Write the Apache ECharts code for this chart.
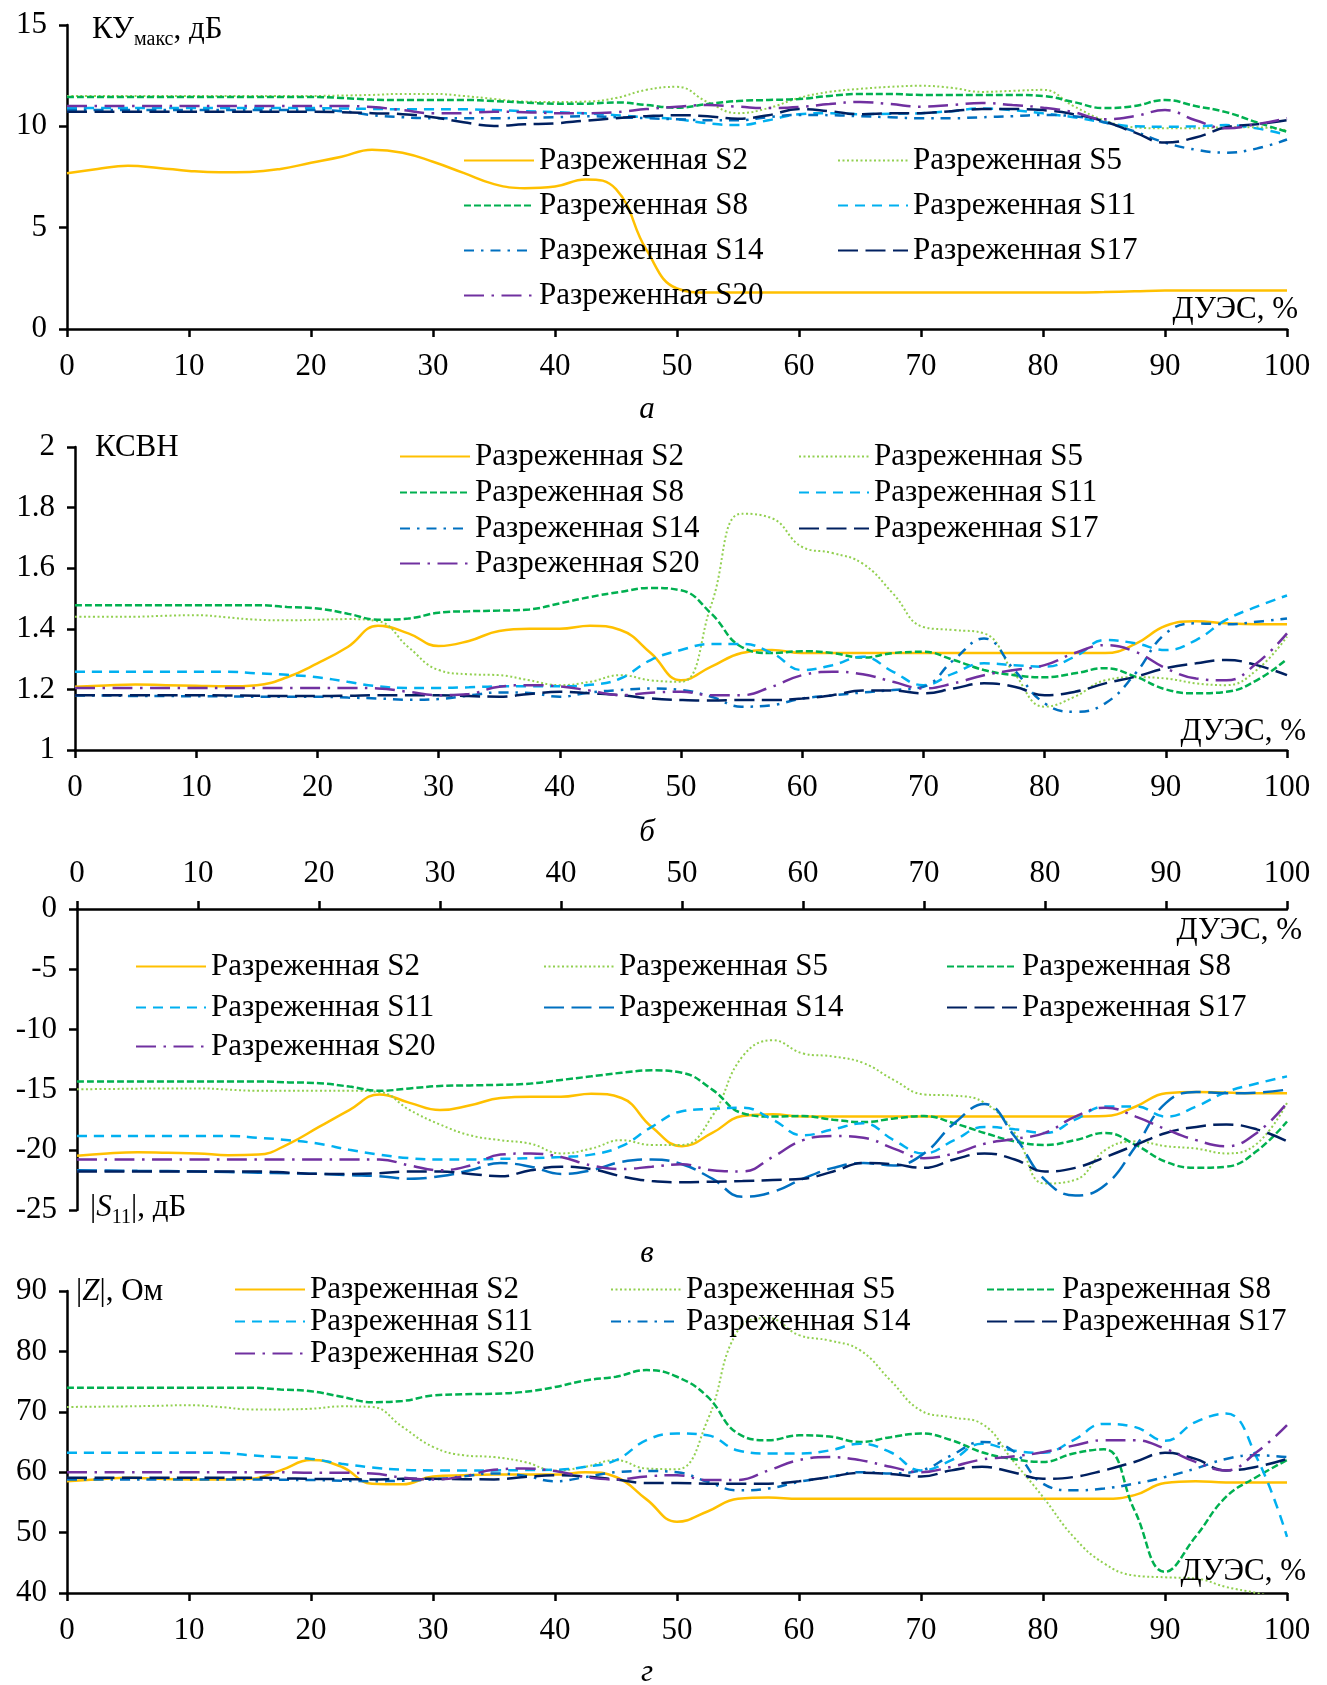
<!DOCTYPE html>
<html><head><meta charset="utf-8">
<script src="https://cdn.jsdelivr.net/npm/echarts@6/dist/echarts.min.js"></script>
<style>html,body{margin:0;padding:0;background:#fff}#c{width:1327px;height:1685px}</style>
</head><body><div id="c"></div><script>
// ---------- DATA ----------
const X = [0,2.5,5,7.5,10,12.5,15,17.5,20,22.5,25,27.5,30,32.5,35,37.5,40,42.5,45,47.5,50,52.5,55,57.5,60,62.5,65,67.5,70,72.5,75,77.5,80,82.5,85,87.5,90,92.5,95,97.5,100];
const NAMES = ['Разреженная S2','Разреженная S5','Разреженная S8','Разреженная S11','Разреженная S14','Разреженная S17','Разреженная S20'];
const AXIS_X_NAME = 'ДУЭС, %';

// panel а: КУмакс, дБ
const a_S2  = [7.68,7.9,8.05,7.95,7.8,7.73,7.75,7.9,8.2,8.5,8.85,8.7,8.25,7.7,7.15,6.95,7.03,7.38,6.9,3.9,2.0,1.8,1.8,1.8,1.8,1.8,1.8,1.8,1.8,1.8,1.8,1.8,1.8,1.8,1.82,1.86,1.9,1.9,1.9,1.9,1.9];
const a_S5  = [11.5,11.5,11.5,11.5,11.5,11.5,11.5,11.5,11.5,11.52,11.55,11.6,11.6,11.5,11.35,11.22,11.2,11.22,11.4,11.8,11.95,11.2,10.65,10.9,11.4,11.7,11.85,11.95,12.0,11.9,11.7,11.75,11.8,11.0,10.3,9.95,9.9,9.9,9.95,9.95,9.8];
const a_S8  = [11.45,11.45,11.45,11.45,11.45,11.45,11.45,11.45,11.45,11.4,11.32,11.3,11.3,11.3,11.25,11.17,11.12,11.12,11.18,11.05,10.92,11.1,11.25,11.3,11.35,11.5,11.6,11.6,11.55,11.55,11.55,11.55,11.5,11.2,10.9,11.0,11.3,11.0,10.7,10.2,9.73];
const a_S11 = [10.9,10.9,10.9,10.9,10.9,10.9,10.9,10.9,10.9,10.88,10.86,10.84,10.84,10.84,10.8,10.75,10.7,10.64,10.55,10.45,10.35,10.15,10.06,10.3,10.6,10.65,10.6,10.62,10.65,10.75,10.88,10.8,10.64,10.45,10.2,10.0,9.98,10.0,10.06,9.9,9.57];
const a_S14 = [10.8,10.8,10.8,10.8,10.8,10.8,10.8,10.8,10.8,10.75,10.55,10.45,10.4,10.4,10.4,10.42,10.45,10.5,10.45,10.4,10.35,10.3,10.3,10.45,10.56,10.55,10.5,10.45,10.4,10.4,10.45,10.5,10.56,10.5,10.2,9.75,9.2,8.85,8.7,8.9,9.35];
const a_S17 = [10.72,10.72,10.72,10.72,10.72,10.72,10.72,10.72,10.72,10.7,10.65,10.6,10.45,10.2,10.02,10.1,10.15,10.28,10.4,10.5,10.55,10.5,10.38,10.55,10.85,10.75,10.6,10.64,10.65,10.75,10.85,10.85,10.8,10.6,10.25,9.7,9.2,9.45,9.95,10.1,10.3];
const a_S20 = [11.0,11.0,11.0,11.0,11.0,11.0,11.0,11.0,11.0,11.0,10.95,10.8,10.64,10.65,10.72,10.7,10.65,10.64,10.7,10.85,10.97,11.05,10.97,10.9,10.95,11.1,11.2,11.1,10.97,11.05,11.15,11.05,10.92,10.7,10.35,10.5,10.8,10.3,9.9,10.1,10.4];

// panel б: КСВН
const b_S2  = [1.209,1.213,1.216,1.214,1.212,1.21,1.214,1.24,1.286,1.34,1.41,1.385,1.343,1.36,1.393,1.40,1.40,1.41,1.396,1.32,1.23,1.275,1.32,1.33,1.32,1.32,1.32,1.32,1.32,1.32,1.32,1.32,1.32,1.32,1.32,1.35,1.41,1.425,1.418,1.415,1.415];
const b_S5  = [1.44,1.44,1.44,1.443,1.445,1.438,1.43,1.428,1.43,1.432,1.425,1.34,1.264,1.25,1.247,1.23,1.214,1.225,1.247,1.23,1.225,1.48,1.78,1.765,1.67,1.65,1.615,1.516,1.406,1.396,1.385,1.253,1.143,1.176,1.23,1.24,1.236,1.22,1.214,1.264,1.374];
const b_S8  = [1.478,1.478,1.478,1.478,1.478,1.478,1.478,1.472,1.467,1.45,1.43,1.434,1.453,1.458,1.46,1.464,1.484,1.505,1.522,1.535,1.527,1.45,1.34,1.32,1.326,1.32,1.305,1.32,1.324,1.297,1.264,1.247,1.24,1.253,1.27,1.242,1.2,1.187,1.192,1.23,1.30];
const b_S11 = [1.258,1.258,1.258,1.258,1.258,1.258,1.253,1.248,1.24,1.225,1.21,1.205,1.205,1.207,1.21,1.21,1.21,1.215,1.236,1.297,1.33,1.35,1.35,1.32,1.264,1.28,1.308,1.258,1.214,1.253,1.286,1.28,1.275,1.308,1.363,1.352,1.33,1.363,1.43,1.473,1.51];
const b_S14 = [1.18,1.18,1.178,1.178,1.177,1.177,1.176,1.176,1.176,1.173,1.17,1.166,1.168,1.18,1.19,1.188,1.176,1.19,1.198,1.203,1.198,1.176,1.143,1.148,1.17,1.18,1.19,1.198,1.209,1.297,1.368,1.264,1.154,1.126,1.154,1.253,1.385,1.418,1.415,1.423,1.434];
const b_S17 = [1.181,1.181,1.181,1.181,1.181,1.18,1.179,1.178,1.178,1.179,1.181,1.181,1.181,1.178,1.176,1.185,1.192,1.187,1.181,1.17,1.165,1.163,1.165,1.165,1.17,1.181,1.196,1.196,1.187,1.203,1.22,1.209,1.181,1.192,1.22,1.242,1.27,1.286,1.297,1.28,1.247];
const b_S20 = [1.205,1.205,1.205,1.205,1.205,1.205,1.205,1.205,1.205,1.205,1.203,1.192,1.181,1.185,1.209,1.214,1.21,1.196,1.181,1.189,1.192,1.181,1.181,1.209,1.247,1.258,1.25,1.225,1.203,1.22,1.247,1.264,1.28,1.32,1.346,1.324,1.27,1.236,1.23,1.286,1.385];

// panel в: |S11|, дБ
const c_S2  = [-20.5,-20.3,-20.2,-20.25,-20.3,-20.45,-20.4,-19.5,-18.1,-16.7,-15.4,-16.1,-16.7,-16.3,-15.7,-15.6,-15.6,-15.35,-15.7,-18.1,-19.7,-18.6,-17.2,-17.05,-17.24,-17.24,-17.24,-17.24,-17.24,-17.24,-17.24,-17.24,-17.24,-17.24,-17.2,-16.4,-15.3,-15.2,-15.25,-15.3,-15.3];
const c_S5  = [-14.97,-14.95,-14.92,-14.9,-14.9,-15.0,-15.1,-15.1,-15.1,-15.1,-15.2,-16.7,-17.9,-18.8,-19.2,-19.5,-20.3,-19.9,-19.2,-19.6,-19.6,-17.2,-12.25,-10.9,-12.0,-12.25,-12.8,-14.2,-15.4,-15.5,-16.1,-18.6,-22.8,-22.5,-20.0,-19.3,-19.7,-19.9,-20.3,-19.5,-16.1];
const c_S8  = [-14.33,-14.33,-14.33,-14.33,-14.33,-14.33,-14.33,-14.4,-14.47,-14.75,-15.1,-14.9,-14.7,-14.65,-14.6,-14.5,-14.2,-13.9,-13.6,-13.4,-13.6,-15.0,-16.96,-17.24,-17.2,-17.5,-17.7,-17.4,-17.2,-17.8,-18.6,-19.3,-19.6,-19.2,-18.6,-19.6,-21.0,-21.5,-21.4,-20.1,-17.65];
const c_S11 = [-18.85,-18.85,-18.85,-18.85,-18.85,-18.85,-19.0,-19.2,-19.5,-20.0,-20.4,-20.7,-20.8,-20.8,-20.75,-20.7,-20.6,-20.4,-19.7,-18.1,-16.8,-16.6,-16.5,-17.5,-18.8,-18.3,-17.8,-19.2,-20.3,-19.2,-18.1,-18.3,-18.6,-17.5,-16.4,-16.4,-17.24,-16.4,-15.2,-14.5,-13.9];
const c_S14 = [-21.7,-21.72,-21.75,-21.77,-21.8,-21.85,-21.9,-21.95,-22.0,-22.1,-22.2,-22.4,-22.2,-21.7,-21.1,-21.4,-22.0,-21.7,-21.0,-20.8,-21.2,-22.4,-23.9,-23.5,-22.4,-21.5,-21.1,-21.3,-20.3,-17.8,-16.2,-18.9,-22.5,-23.8,-22.9,-19.7,-16.1,-15.2,-15.3,-15.25,-15.0];
const c_S17 = [-21.8,-21.8,-21.8,-21.8,-21.8,-21.8,-21.8,-21.9,-22.0,-22.0,-21.95,-21.8,-21.8,-22.0,-22.2,-21.7,-21.4,-21.6,-22.2,-22.6,-22.7,-22.65,-22.6,-22.5,-22.4,-21.8,-21.1,-21.2,-21.5,-20.8,-20.3,-20.8,-21.8,-21.5,-20.6,-19.6,-18.6,-18.1,-17.9,-18.3,-19.3];
const c_S20 = [-20.8,-20.8,-20.8,-20.8,-20.8,-20.8,-20.8,-20.8,-20.8,-20.8,-20.8,-21.3,-21.7,-21.3,-20.4,-20.3,-20.6,-21.3,-21.6,-21.4,-21.2,-21.7,-21.8,-20.6,-19.2,-18.85,-19.0,-19.9,-20.7,-20.3,-19.5,-19.1,-18.6,-17.24,-16.5,-17.24,-18.3,-19.2,-19.7,-18.6,-16.1];

// panel г: |Z|, Ом
const d_S2  = [58.5,58.8,59.1,58.9,58.8,58.8,58.9,60.3,62.0,60.9,58.1,58.0,59.3,59.5,59.6,59.6,59.6,60.0,59.2,55.5,51.8,53.5,55.6,55.8,55.6,55.6,55.6,55.6,55.6,55.6,55.6,55.6,55.6,55.6,55.6,56.2,58.2,58.5,58.3,58.3,58.3];
const d_S5  = [70.8,70.85,70.9,71.0,71.1,70.8,70.4,70.4,70.5,70.9,70.8,67.5,64.2,62.8,62.5,61.7,60.3,60.9,62.0,60.6,60.5,68.6,83.5,85.5,82.7,81.8,80.2,75.2,70.2,69.1,68.0,62.0,55.9,49.3,44.9,42.9,42.6,42.4,41.0,40.0,38.8];
const d_S8  = [74.0,74.0,74.0,74.0,74.0,74.0,74.0,73.7,73.4,72.5,71.6,71.8,72.7,72.9,73.0,73.3,74.1,75.2,75.8,76.9,75.8,72.5,66.4,65.3,66.1,65.9,65.0,65.8,66.4,65.3,63.3,62.2,61.7,63.1,63.8,53.7,43.5,49.3,55.9,59.2,62.0];
const d_S11 = [63.2,63.2,63.2,63.2,63.2,63.2,62.8,62.5,62.2,61.4,60.8,60.4,60.3,60.3,60.3,60.35,60.4,60.9,62.0,65.3,66.4,66.1,63.6,63.1,63.1,63.6,64.7,63.3,60.3,62.0,64.7,63.6,63.2,65.3,68.0,67.5,65.2,68.3,69.7,62.5,49.3];
const d_S14 = [58.8,58.8,58.8,58.8,58.8,58.8,58.8,58.75,58.7,58.6,58.5,58.6,58.8,59.3,59.8,59.4,58.5,59.2,60.0,60.2,60.0,58.4,57.0,57.3,58.4,59.2,60.0,59.8,60.3,62.8,65.0,63.6,58.1,57.0,57.3,58.1,59.2,60.6,62.2,62.8,62.5];
const d_S17 = [59.1,59.1,59.1,59.1,59.1,59.1,59.1,59.0,58.9,58.85,58.8,58.9,58.9,58.85,58.8,59.2,59.5,59.3,58.8,58.2,58.2,58.1,58.1,58.1,58.5,59.2,59.9,59.7,59.3,60.3,60.9,60.0,58.9,59.2,60.3,61.7,63.2,62.2,60.3,60.9,62.2];
const d_S20 = [60.0,60.0,60.0,60.0,60.0,60.0,60.0,60.0,59.9,59.9,59.8,59.1,58.8,59.3,60.4,60.6,60.2,59.2,58.8,59.3,59.5,58.7,58.7,60.3,62.0,62.5,62.0,60.9,60.0,60.9,62.1,62.6,63.3,64.4,65.3,65.3,63.9,61.7,60.3,63.3,67.8];

// ---------- STYLES ----------
const FF = 'Liberation Serif';
const STY = [
  {color:'#FFC000', width:2.5, type:'solid'},
  {color:'#92D050', width:2, type:[2,2.5]},
  {color:'#00B050', width:2.5, type:[7,3]},
  {color:'#00B0F0', width:2.5, type:[10,7]},
  {color:'#0070C0', width:2.5, type:[10,7,2.5,7]},
  {color:'#002060', width:2.5, type:[20,7.5]},
  {color:'#7030A0', width:2.5, type:[20,7.5,2.5,7.5]}
];
const STY_c14 = {color:'#0070C0', width:2.5, type:[20,7.5]};

const PANELS = [
  {id:'a', data:[a_S2,a_S5,a_S8,a_S11,a_S14,a_S17,a_S20], grid:{left:67, top:25, width:1220, height:304}, y:[0,15,5], xpos:'bottom',
   cols:[463,837], rows:[161,206,251,296], ncol:2},
  {id:'b', data:[b_S2,b_S5,b_S8,b_S11,b_S14,b_S17,b_S20], grid:{left:75, top:447, width:1212, height:303}, y:[1,2,0.2], xpos:'bottom',
   cols:[399,798], rows:[457,493,529,564], ncol:2},
  {id:'c', data:[c_S2,c_S5,c_S8,c_S11,c_S14,c_S17,c_S20], grid:{left:77, top:909, width:1210, height:301}, y:[-25,0,5], xpos:'top',
   cols:[135,543,946], rows:[967,1008,1047], ncol:3},
  {id:'d', data:[d_S2,d_S5,d_S8,d_S11,d_S14,d_S17,d_S20], grid:{left:67, top:1291, width:1220, height:302}, y:[40,90,10], xpos:'bottom',
   cols:[234,610,986], rows:[1290,1322,1354], ncol:3}
];

const grids=[], xAxes=[], yAxes=[], series=[], legends=[];
PANELS.forEach((p, gi) => {
  grids.push(Object.assign({containLabel:false}, p.grid));
  xAxes.push({gridIndex:gi, type:'value', min:0, max:100, interval:10, position:p.xpos,
    axisLine:{onZero:false, lineStyle:{color:'#000', width:2.5}},
    axisTick:{show:true, length:8, lineStyle:{color:'#000', width:2.5}},
    axisLabel:{color:'#000', fontFamily:FF, fontSize:31, margin:p.xpos==='top'?20:22},
    splitLine:{show:false}});
  yAxes.push({gridIndex:gi, type:'value', min:p.y[0], max:p.y[1], interval:p.y[2],
    axisLine:{show:true, onZero:false, lineStyle:{color:'#000', width:2.5}},
    axisTick:{show:true, length:8, lineStyle:{color:'#000', width:2.5}},
    axisLabel:{color:'#000', fontFamily:FF, fontSize:31, margin:20},
    splitLine:{show:false}});
  p.data.forEach((arr, k) => {
    const st = (p.id==='c' && k===4) ? STY_c14 : STY[k];
    const nm = NAMES[k] + '@' + p.id;
    series.push({type:'line', name:nm, xAxisIndex:gi, yAxisIndex:gi,
      data: X.map((x,i)=>[x, arr[i]]), smooth:0.45, symbol:'none', showSymbol:false,
      lineStyle:{color:st.color, width:st.width, type:st.type, cap:'butt'},
      itemStyle:{color:'rgba(0,0,0,0)', borderWidth:0}, z:2+k, silent:true, animation:false, clip:true});
    const c = k % p.ncol, r = Math.floor(k / p.ncol);
    legends.push({data:[nm], left:p.cols[c], top:p.rows[r]-16, padding:0, itemWidth:70, itemHeight:14,
      selectedMode:false, formatter:n=>n.split('@')[0],
      itemStyle:{color:'rgba(0,0,0,0)', borderWidth:0, opacity:0},
      textStyle:{color:'#000', fontFamily:FF, fontSize:31}});
  });
});

const T = (txt, x, y, align, extra) => ({type:'text', x, y, silent:true, z:50,
  style:Object.assign({text:txt, fill:'#000', font:'31px "Liberation Serif"', textAlign:align||'left', textVerticalAlign:'middle'}, extra||{})});
const RICH = {
  a:{fontFamily:FF, fontSize:31, color:'#000', lineHeight:36, verticalAlign:'middle'},
  i:{fontFamily:FF, fontSize:31, color:'#000', fontStyle:'italic', lineHeight:36, verticalAlign:'middle'},
  s:{fontFamily:FF, fontSize:20, color:'#000', lineHeight:36, verticalAlign:'bottom', padding:[0,0,-2,0]}
};
const graphics = [
  T('{a|КУ}{s|макс}{a|, дБ}', 92, 30, 'left', {rich:RICH}),
  T(AXIS_X_NAME, 1298, 310, 'right'),
  T('а', 647, 410, 'center', {font:'italic 31px "Liberation Serif"'}),
  T('КСВН', 95, 448, 'left'),
  T(AXIS_X_NAME, 1306, 732, 'right'),
  T('б', 647, 833, 'center', {font:'italic 31px "Liberation Serif"'}),
  T(AXIS_X_NAME, 1302, 931, 'right'),
  T('{a||}{i|S}{s|11}{a||, дБ}', 90, 1208, 'left', {rich:RICH}),
  T('в', 647, 1254, 'center', {font:'italic 31px "Liberation Serif"'}),
  T('{a||}{i|Z}{a||, Ом}', 76, 1292, 'left', {rich:RICH}),
  T(AXIS_X_NAME, 1306, 1572, 'right'),
  T('г', 647, 1673, 'center', {font:'italic 31px "Liberation Serif"'})
];

const chart = echarts.init(document.getElementById('c'), null, {renderer:'canvas'});
chart.setOption({
  animation:false, backgroundColor:'#fff',
  grid:grids, xAxis:xAxes, yAxis:yAxes, series, legend:legends,
  graphic:{elements:graphics}
});
</script></body></html>
